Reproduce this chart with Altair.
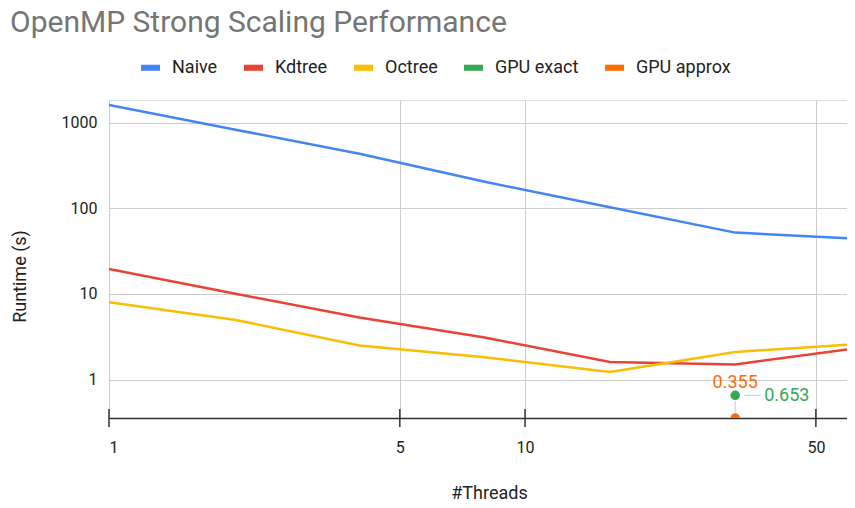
import altair as alt
import pandas as pd

threads = [1, 2, 4, 8, 16, 32, 64]
naive = [1610, 835, 434, 204, 103, 52, 44]
kdtree = [19.5, 10.1, 5.3, 3.1, 1.6, 1.5, 2.35]
octree = [8.0, 5.0, 2.5, 1.82, 1.22, 2.1, 2.6]
gpu_threads = [32, 32]
gpu_names = ["GPU exact", "GPU approx"]
gpu_values = [0.653, 0.355]

series_names = ["Naive", "Kdtree", "Octree", "GPU exact", "GPU approx"]
series_colors = ["#4285F4", "#EA4335", "#FBBC04", "#34A853", "#FF6D01"]
x_ticks = [1, 5, 10, 50]
y_ticks = [1, 10, 100, 1000]

rows = []
for name, vals in [("Naive", naive), ("Kdtree", kdtree), ("Octree", octree)]:
    for t, v in zip(threads, vals):
        rows.append({"threads": t, "runtime": v, "series": name})
lines_df = pd.DataFrame(rows)
gpu_df = pd.DataFrame({"threads": gpu_threads, "runtime": gpu_values, "series": gpu_names})
gpu_df["label"] = [f"{v:.3f}" for v in gpu_values]
ticks_df = pd.DataFrame({"t": x_ticks})

W, H = 738, 318
FONT = "Roboto"

xscale = alt.Scale(type="log", domain=[1, 59.4], nice=False)
yscale = alt.Scale(type="log", domain=[0.355, 1842], nice=False)
cscale = alt.Scale(domain=series_names, range=series_colors)

x_enc = alt.X("threads:Q", scale=xscale, axis=alt.Axis(
    values=x_ticks, format="d", title="#Threads", grid=True, gridColor="#cccccc",
    domainColor="#333333", domainWidth=1.5, ticks=False, tickSize=0, labelPadding=21,
    labelFontSize=16, labelColor="#222222", labelFont=FONT,
    titleFont=FONT, titleFontSize=18, titleFontWeight="normal", titleColor="#222222",
    titleX=380, titleY=75, titleBaseline="middle"))
y_enc = alt.Y("runtime:Q", scale=yscale, axis=alt.Axis(
    values=y_ticks, format="d", title="Runtime (s)", grid=True, gridColor="#cccccc",
    domain=False, ticks=False, tickSize=0, labelPadding=12,
    labelFontSize=16, labelColor="#222222", labelFont=FONT,
    titleFont=FONT, titleFontSize=18, titleFontWeight="normal", titleColor="#222222",
    titleX=-89, titleY=176, titleBaseline="middle", titleAngle=270))

color_enc = alt.Color("series:N", scale=cscale, legend=alt.Legend(
    title=None, orient="none", legendX=32, legendY=-42, direction="horizontal",
    symbolType="M-1,-0.32H1V0.32H-1Z", symbolSize=361, symbolStrokeWidth=0,
    labelFont=FONT, labelFontSize=18, labelColor="#222222", labelOffset=12,
    columnPadding=26, symbolOpacity=1))

lines = alt.Chart(lines_df).mark_line(strokeWidth=2.5, clip=True).encode(
    x=x_enc, y=y_enc, color=color_enc)

points = alt.Chart(gpu_df).mark_circle(size=90, opacity=1, clip=True).encode(
    x="threads:Q", y="runtime:Q", color=alt.Color("series:N", scale=cscale))

exact_df = gpu_df[gpu_df.series == "GPU exact"]
approx_df = gpu_df[gpu_df.series == "GPU approx"]

exact_leader = alt.Chart(exact_df).mark_rule(color="#cccccc", strokeWidth=1, xOffset=9, x2Offset=26).encode(
    x="threads:Q", x2="threads:Q", y="runtime:Q")
approx_leader = alt.Chart(approx_df).mark_rule(color="#cccccc", strokeWidth=1, yOffset=-17, y2Offset=-5).encode(
    x="threads:Q", y="runtime:Q", y2="runtime:Q")

exact_label = alt.Chart(exact_df).mark_text(align="left", baseline="middle", dx=29, dy=1,
                                            font=FONT, fontSize=18).encode(
    x="threads:Q", y="runtime:Q", text="label:N", color=alt.Color("series:N", scale=cscale))
approx_label = alt.Chart(approx_df).mark_text(align="center", baseline="middle", dy=-35,
                                              font=FONT, fontSize=18).encode(
    x="threads:Q", y="runtime:Q", text="label:N", color=alt.Color("series:N", scale=cscale))

tick_rules = alt.Chart(ticks_df).mark_rule(color="#333333", strokeWidth=1.5).encode(
    x=alt.X("t:Q", scale=xscale), y=alt.value(H - 9), y2=alt.value(H + 9))

chart = alt.layer(lines, points, exact_leader, approx_leader, exact_label, approx_label, tick_rules).properties(
    width=W, height=H,
    title=alt.TitleParams("OpenMP Strong Scaling Performance", anchor="start", frame="group",
                          dx=-99, offset=-4, baseline="alphabetic", font=FONT, fontSize=30,
                          fontWeight="normal", color="#757575"),
    autosize=alt.AutoSizeParams(type="none"),
    padding={"left": 101, "top": 92, "right": 0, "bottom": 88},
).configure_view(stroke=None).configure(background="white")

chart.save("out.html", embed_options={"renderer": "svg", "actions": False})
